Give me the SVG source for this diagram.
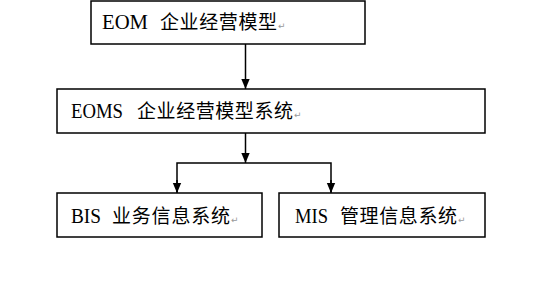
<svg xmlns="http://www.w3.org/2000/svg" width="537" height="305" viewBox="0 0 537 305">
<style>
.box{fill:#fff;stroke:#000;stroke-width:1.5}
.t{font-family:"Liberation Serif","Noto Sans CJK SC",serif;font-size:20px;fill:#000}
.c{font-family:"Noto Sans CJK SC","Liberation Serif",sans-serif;font-size:19px;fill:#000}
.p{font-family:"DejaVu Sans",sans-serif;font-size:9px;fill:#999}
.ln{fill:none;stroke:#000;stroke-width:1.5}
</style>
<defs>
<marker id="ah" markerWidth="10" markerHeight="12" refX="12" refY="5" orient="auto" markerUnits="userSpaceOnUse" viewBox="0 0 12 10">
<path d="M0,0 L12,5 L0,10 Z" fill="#000"/>
</marker>
</defs>
<rect width="537" height="305" fill="#fff"/>
<g id="connectors">
<line class="ln" x1="245.5" y1="44" x2="245.5" y2="89" marker-end="url(#ah)"/>
<line class="ln" x1="245.5" y1="133" x2="245.5" y2="163" marker-end="url(#ah)"/>
<polyline class="ln" points="177,192 177,163 331,163 331,192"/>
<line class="ln" x1="177" y1="180" x2="177" y2="193" marker-end="url(#ah)"/>
<line class="ln" x1="331" y1="180" x2="331" y2="193" marker-end="url(#ah)"/>
</g>
<g id="eom">
<rect class="box" x="91" y="1" width="274" height="43"/>
<text class="t" x="102" y="29" textLength="46" lengthAdjust="spacingAndGlyphs">EOM</text>
<text class="c" x="160" y="29" textLength="117" lengthAdjust="spacing">企业经营模型</text>
<text class="p" x="278" y="29">↵</text>
</g>
<g id="eoms">
<rect class="box" x="57" y="89" width="428" height="44"/>
<text class="t" x="71" y="118" textLength="52" lengthAdjust="spacingAndGlyphs">EOMS</text>
<text class="c" x="137" y="118" textLength="156" lengthAdjust="spacing">企业经营模型系统</text>
<text class="p" x="294" y="118">↵</text>
</g>
<g id="bis">
<rect class="box" x="57" y="193" width="205" height="44"/>
<text class="t" x="71" y="223" textLength="30" lengthAdjust="spacingAndGlyphs">BIS</text>
<text class="c" x="112" y="223" textLength="118" lengthAdjust="spacing">业务信息系统</text>
<text class="p" x="231" y="223">↵</text>
</g>
<g id="mis">
<rect class="box" x="279" y="193" width="206" height="44"/>
<text class="t" x="295" y="223" textLength="33" lengthAdjust="spacingAndGlyphs">MIS</text>
<text class="c" x="340" y="223" textLength="117" lengthAdjust="spacing">管理信息系统</text>
<text class="p" x="458" y="223">↵</text>
</g>
</svg>
